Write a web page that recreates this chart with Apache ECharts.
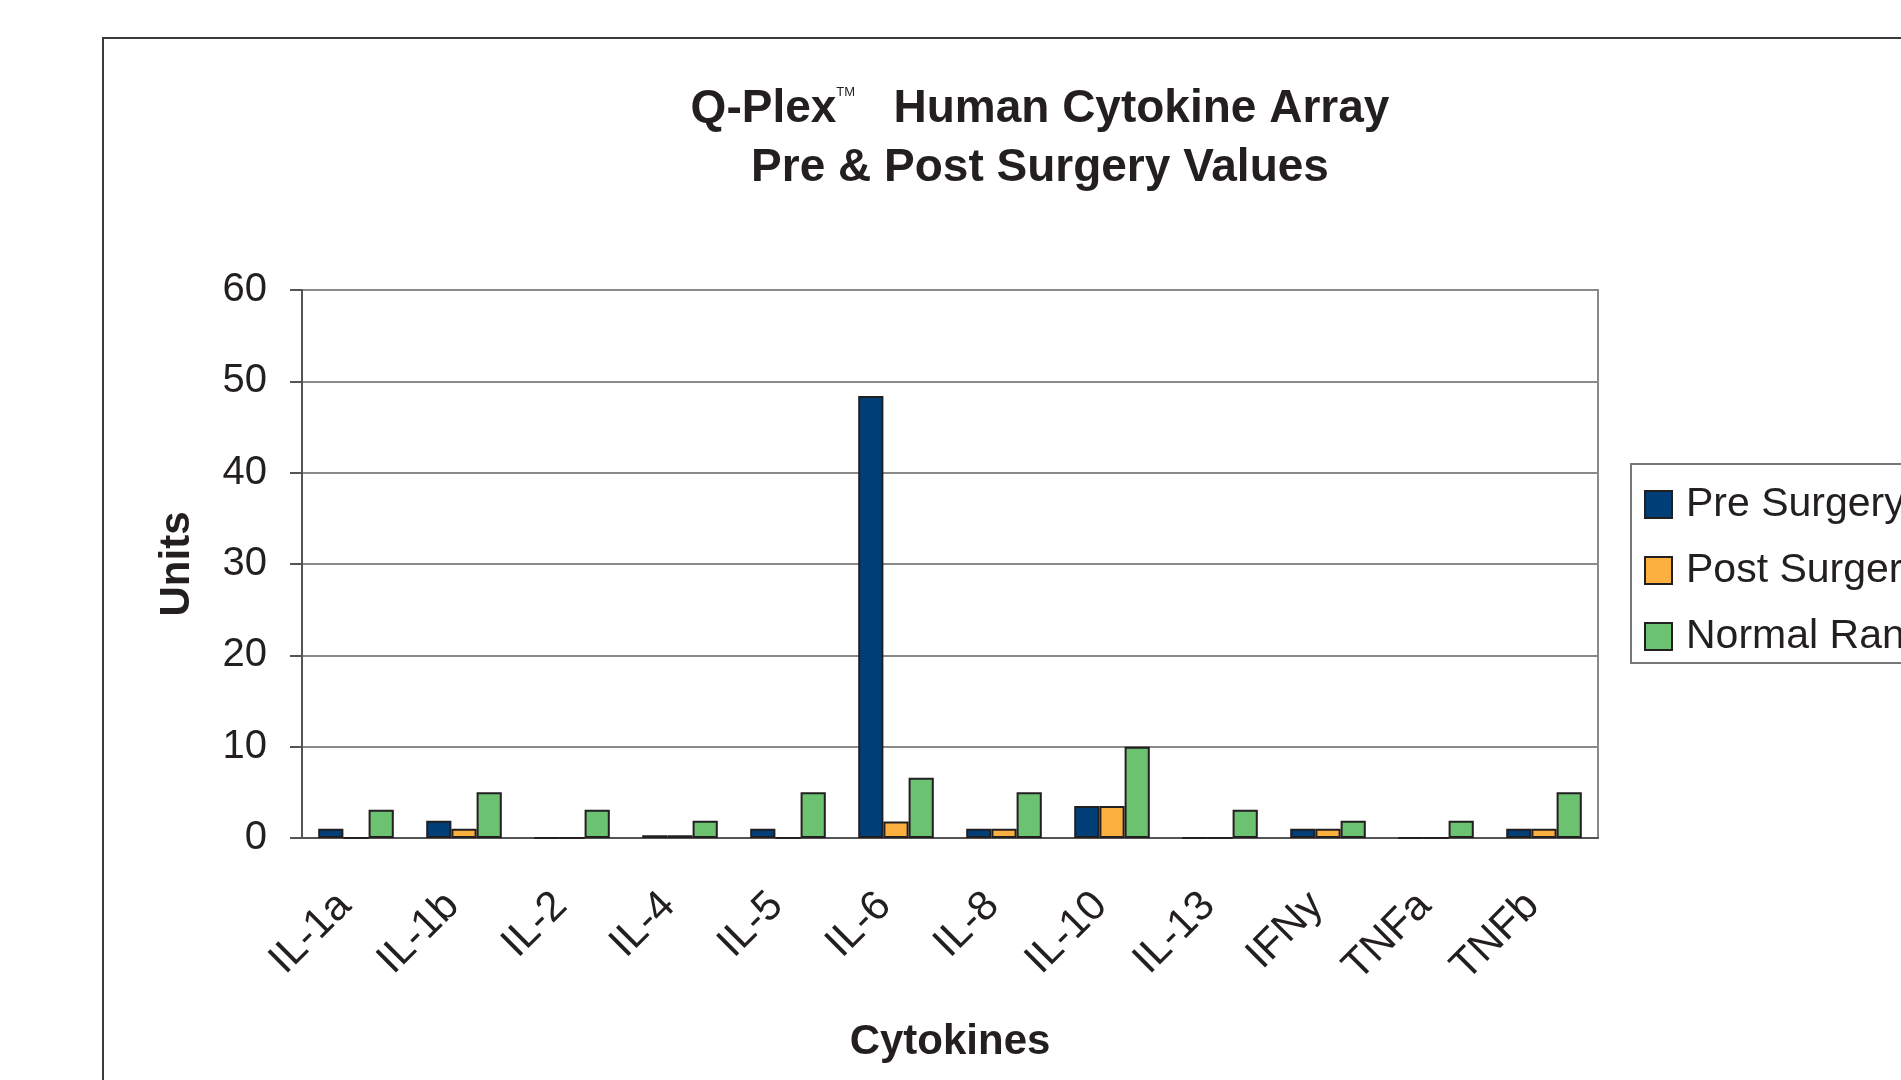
<!DOCTYPE html>
<html>
<head>
    <meta charset="utf-8">
    <title>Q-Plex Human Cytokine Array</title>
    <style>
        html, body { margin: 0; padding: 0; background: #fff; }
        #charts { width: 1901px; height: 1080px; }
    </style>
</head>
<body>
    <div id="charts"></div>
<script src="https://cdn.jsdelivr.net/npm/echarts@6/dist/echarts.min.js"></script>
<script>
// data
var cytokines = ['IL-1a', 'IL-1b', 'IL-2', 'IL-4', 'IL-5', 'IL-6', 'IL-8', 'IL-10', 'IL-13', 'IFNy', 'TNFa', 'TNFb'];
var preSurgery  = [1, 1.9, 0, 0.3, 1, 48.4, 1, 3.5, 0, 1, 0, 1];
var postSurgery = [0, 1, 0, 0.3, 0, 1.8, 1, 3.5, 0, 1, 0, 1];
var normalRange = [3.1, 5, 3.1, 1.9, 5, 6.6, 5, 10, 3.1, 1.9, 1.9, 5];
var seriesNames = ['Pre Surgery', 'Post Surgery', 'Normal Range'];

var font = '"Liberation Sans", Arial, sans-serif';
var myChart = echarts.init(document.getElementById('charts'));

function barSeries(name, data) {
    return {
        name: name,
        type: 'bar',
        data: data,
        barGap: '0%',
        barCategoryGap: '30%',
        itemStyle: { borderColor: '#231f20', borderWidth: 2 }
    };
}

var option = {
    animation: false,
    backgroundColor: '#fff',
    color: ['#003e78', '#fbb040', '#6bc271'],
    graphic: [
        {   // outer chart frame, runs off the right and bottom edge
            type: 'rect',
            shape: { x: 103, y: 38, width: 2000, height: 2000 },
            style: { fill: 'none', stroke: '#3a3a3a', lineWidth: 2 }
        },
        {
            type: 'text',
            x: 1040, y: 109,
            style: {
                text: '{a|Q-Plex}{tm|TM}{a|   Human Cytokine Array}',
                textAlign: 'center',
                textVerticalAlign: 'middle',
                rich: {
                    a: { fontFamily: font, fontSize: 46, fontWeight: 'bold', fill: '#231f20' },
                    tm: { fontFamily: font, fontSize: 13, fill: '#231f20', verticalAlign: 'top', padding: [0, 0, 22, 0] }
                }
            }
        },
        {
            type: 'text',
            x: 1040, y: 168,
            style: {
                text: 'Pre & Post Surgery Values',
                textAlign: 'center',
                textVerticalAlign: 'middle',
                fontFamily: font, fontSize: 46, fontWeight: 'bold', fill: '#231f20'
            }
        }
    ],
    legend: {
        orient: 'vertical',
        left: 1631,
        top: 464,
        data: seriesNames,
        icon: 'rect',
        itemWidth: 27,
        itemHeight: 27,
        itemGap: 25,
        padding: [20, 20, 6, 13],
        borderColor: '#777',
        borderWidth: 2,
        textStyle: { fontFamily: font, fontSize: 41, color: '#231f20', padding: [0, 0, 0, 9] }
    },
    grid: {
        left: 302,
        right: 303,
        top: 290,
        bottom: 242,
        show: true,
        borderColor: '#8a8a8a',
        borderWidth: 2
    },
    xAxis: {
        type: 'category',
        data: cytokines,
        boundaryGap: true,
        name: 'Cytokines',
        nameLocation: 'middle',
        nameGap: 183,
        nameTextStyle: { fontFamily: font, fontSize: 42, fontWeight: 'bold', color: '#231f20' },
        axisLine: { lineStyle: { color: '#555', width: 2 } },
        axisTick: { length: 13, lineStyle: { color: '#555', width: 2 } },
        axisLabel: {
            interval: 0,
            rotate: 45,
            margin: 50,
            padding: [0, 16, 0, 0],
            fontFamily: font,
            fontSize: 42,
            color: '#231f20'
        }
    },
    yAxis: {
        type: 'value',
        min: 0,
        max: 60,
        interval: 10,
        name: 'Units',
        nameLocation: 'middle',
        nameRotate: 90,
        nameGap: 104,
        nameTextStyle: { fontFamily: font, fontSize: 42, fontWeight: 'bold', color: '#231f20' },
        axisLine: { show: true, lineStyle: { color: '#555', width: 2 } },
        axisTick: { show: true, length: 12, lineStyle: { color: '#555', width: 2 } },
        axisLabel: { margin: 35, fontFamily: font, fontSize: 40, color: '#231f20' },
        splitLine: { lineStyle: { color: '#8a8a8a', width: 2 } }
    },
    series: [
        barSeries(seriesNames[0], preSurgery),
        barSeries(seriesNames[1], postSurgery),
        barSeries(seriesNames[2], normalRange)
    ]
};

myChart.setOption(option);
</script>
</body>
</html>
